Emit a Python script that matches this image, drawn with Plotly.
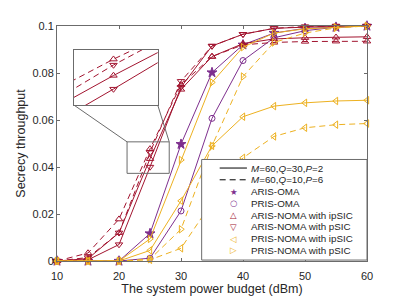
import plotly.graph_objects as go

# ---------------- data ----------------
power_dbm = [10, 15, 20, 25, 30, 35, 40, 45, 50, 55, 60]

aris_oma = [0, 0, 0, 0.0117, 0.0497, 0.0802, 0.092, 0.097, 0.099, 0.0995, 0.1]
pris_oma = [0, 0, 0, 0.0012, 0.0213, 0.0607, 0.0853, 0.095, 0.098, 0.0995, 0.1]

aris_noma_ipsic_q30 = [0, 0.001, 0.012, 0.0435, 0.073, 0.087, 0.0925, 0.0945, 0.095, 0.0952, 0.0954]
aris_noma_ipsic_q10 = [0, 0.0034, 0.0178, 0.0477, 0.075, 0.087, 0.092, 0.093, 0.0934, 0.0935, 0.0935]
aris_noma_psic_q30 = [0, 0.0005, 0.007, 0.040, 0.074, 0.0915, 0.0965, 0.099, 0.0995, 0.1, 0.1]
aris_noma_psic_q10 = [0, 0.0015, 0.012, 0.0462, 0.0765, 0.0915, 0.0965, 0.099, 0.0998, 0.1, 0.1]

pris_noma_ipsic_q30 = [0, 0, 0, 0.0045, 0.0256, 0.049, 0.0614, 0.0659, 0.0673, 0.0681, 0.0684]
pris_noma_ipsic_q10 = [0, 0, 0, 0.0005, 0.0054, 0.025, 0.0439, 0.053, 0.0567, 0.058, 0.0585]
pris_noma_psic_q30 = [0, 0, 0, 0.0094, 0.043, 0.076, 0.091, 0.097, 0.0988, 0.0995, 0.1]
pris_noma_psic_q10 = [0, 0, 0, 0.0008, 0.0135, 0.049, 0.0785, 0.093, 0.097, 0.0992, 0.1]

x_ticks = [10, 20, 30, 40, 50, 60]
y_ticks = [0, 0.02, 0.04, 0.06, 0.08, 0.1]
y_tick_text = ["0", "0.02", "0.04", "0.06", "0.08", "0.1"]

legend_labels = [
    "<i>M</i>=60,<i>Q</i>=30,<i>P</i>=2",
    "<i>M</i>=60,<i>Q</i>=10,<i>P</i>=6",
    "ARIS-OMA",
    "PRIS-OMA",
    "ARIS-NOMA with ipSIC",
    "ARIS-NOMA with pSIC",
    "PRIS-NOMA with ipSIC",
    "PRIS-NOMA with pSIC",
]

# ---------------- style ----------------
PURPLE = "#7E2F8E"
RED = "#A2142F"
ORANGE = "#EDB120"
AXC = "#6b6b6b"
TXT = "#262626"
FONT = "Liberation Sans, Arial, sans-serif"
DASH = "6px,4px"

series = [
    (aris_oma, PURPLE, "star", "solid", 7.5),
    (pris_oma, PURPLE, "circle-open", "solid", 6),
    (aris_noma_ipsic_q30, RED, "triangle-up-open", "solid", 6.5),
    (aris_noma_ipsic_q10, RED, "triangle-up-open", DASH, 6.5),
    (aris_noma_psic_q30, RED, "triangle-down-open", "solid", 6.5),
    (aris_noma_psic_q10, RED, "triangle-down-open", DASH, 6.5),
    (pris_noma_ipsic_q30, ORANGE, "triangle-left-open", "solid", 6.5),
    (pris_noma_ipsic_q10, ORANGE, "triangle-left-open", DASH, 6.5),
    (pris_noma_psic_q30, ORANGE, "triangle-right-open", "solid", 6.5),
    (pris_noma_psic_q10, ORANGE, "triangle-right-open", DASH, 6.5),
]

fig = go.Figure()

for ys, col, sym, dash, msz in series:
    fig.add_trace(go.Scatter(
        x=power_dbm, y=ys, mode="lines+markers",
        line=dict(color=col, width=1, dash=dash),
        marker=dict(symbol=sym, size=msz, color=col, line=dict(color=col, width=1)),
        showlegend=False, cliponaxis=False, xaxis="x", yaxis="y",
    ))

# inset (zoom) traces: red curves only
for ys, col, sym, dash, msz in series:
    if col != RED:
        continue
    fig.add_trace(go.Scatter(
        x=power_dbm, y=ys, mode="lines+markers",
        line=dict(color=col, width=1, dash=dash),
        marker=dict(symbol=sym, size=msz, color=col, line=dict(color=col, width=1)),
        showlegend=False, cliponaxis=True, xaxis="x2", yaxis="y2",
    ))

OFF = 8  # page body margin
W, H = 406 - OFF, 305 - OFF
ML, MR, MT, MB = 52 - OFF, 39, 23 - OFF, 35
PW, PH = W - ML - MR, H - MT - MB


def px_x(p):
    return (p - OFF - ML) / PW


def px_y(p):
    return (H - MB - (p - OFF)) / PH


inset_x = [24.1, 26.0]
inset_y = [0.0359, 0.0502]

shapes = []
shapes.append(dict(type="rect", xref="x2", yref="y2", x0=inset_x[0], x1=inset_x[1],
                   y0=inset_y[0], y1=inset_y[1], fillcolor="white",
                   line=dict(width=0), layer="below"))
shapes.append(dict(type="rect", xref="x", yref="y", x0=21.3, x1=28.1, y0=0.0373, y1=0.0507,
                   line=dict(color=AXC, width=1), layer="above"))
shapes.append(dict(type="line", xref="x", yref="y", x0=12.7, y0=0.0664, x1=21.3, y1=0.0507,
                   line=dict(color=AXC, width=1), layer="above"))
shapes.append(dict(type="line", xref="x", yref="y", x0=26.24, y0=0.0664, x1=28.1, y1=0.0507,
                   line=dict(color=AXC, width=1), layer="above"))

shapes.append(dict(type="rect", xref="paper", yref="paper",
                   x0=px_x(199), x1=px_x(367), y0=px_y(269), y1=px_y(163.3),
                   fillcolor="white", line=dict(color=AXC, width=1), layer="above"))
row_y = [172.3 + 12.35 * i for i in range(8)]
shapes.append(dict(type="line", xref="paper", yref="paper",
                   x0=px_x(217.3), x1=px_x(245), y0=px_y(row_y[0]), y1=px_y(row_y[0]),
                   line=dict(color="black", width=1), layer="above"))
shapes.append(dict(type="line", xref="paper", yref="paper",
                   x0=px_x(217.3), x1=px_x(245), y0=px_y(row_y[1]), y1=px_y(row_y[1]),
                   line=dict(color="black", width=1, dash=DASH), layer="above"))

annotations = []
for i, lab in enumerate(legend_labels):
    annotations.append(dict(text=lab, xref="paper", yref="paper", x=px_x(247), y=px_y(row_y[i]),
                            xanchor="left", yanchor="middle", showarrow=False,
                            font=dict(family=FONT, size=9.8, color=TXT)))
sym_txt = [("★", PURPLE), ("○", PURPLE), ("△", RED), ("▽", RED), ("◁", ORANGE), ("▷", ORANGE)]
for j, (s, c) in enumerate(sym_txt):
    annotations.append(dict(text=s, xref="paper", yref="paper", x=px_x(231.7), y=px_y(row_y[j + 2]),
                            xanchor="center", yanchor="middle", showarrow=False,
                            font=dict(family="DejaVu Sans", size=8.5, color=c)))

fig.update_layout(
    width=W, height=H,
    margin=dict(l=ML, r=MR, t=MT, b=MB),
    paper_bgcolor="white", plot_bgcolor="white",
    font=dict(family=FONT, color=TXT),
    showlegend=False,
    shapes=shapes, annotations=annotations,
    xaxis=dict(range=[10, 60], tickvals=x_ticks, ticks="inside", ticklen=3, tickcolor=AXC,
               showline=True, linecolor=AXC, linewidth=1, mirror="ticks", showgrid=False,
               zeroline=False, tickfont=dict(size=11, color=TXT), ticklabelstandoff=5,
               title=dict(text="The system power budget (dBm)", font=dict(size=12.5, color=TXT),
                          standoff=2)),
    yaxis=dict(range=[0, 0.1], tickvals=y_ticks, ticktext=y_tick_text, ticks="inside", ticklen=3,
               tickcolor=AXC, showline=True, linecolor=AXC, linewidth=1, mirror="ticks",
               showgrid=False, zeroline=False, tickfont=dict(size=11, color=TXT),
               title=dict(text="Secrecy throughput", font=dict(size=12.5, color=TXT), standoff=4)),
    xaxis2=dict(domain=[px_x(69), px_x(154.3)], anchor="y2", range=inset_x, showline=True,
                linecolor=AXC, linewidth=1, mirror=True, ticks="", showticklabels=False,
                showgrid=False, zeroline=False),
    yaxis2=dict(domain=[px_y(106), px_y(47.7)], anchor="x2", range=inset_y, showline=True,
                linecolor=AXC, linewidth=1, mirror=True, ticks="", showticklabels=False,
                showgrid=False, zeroline=False),
)

fig.write_html("out.html")
